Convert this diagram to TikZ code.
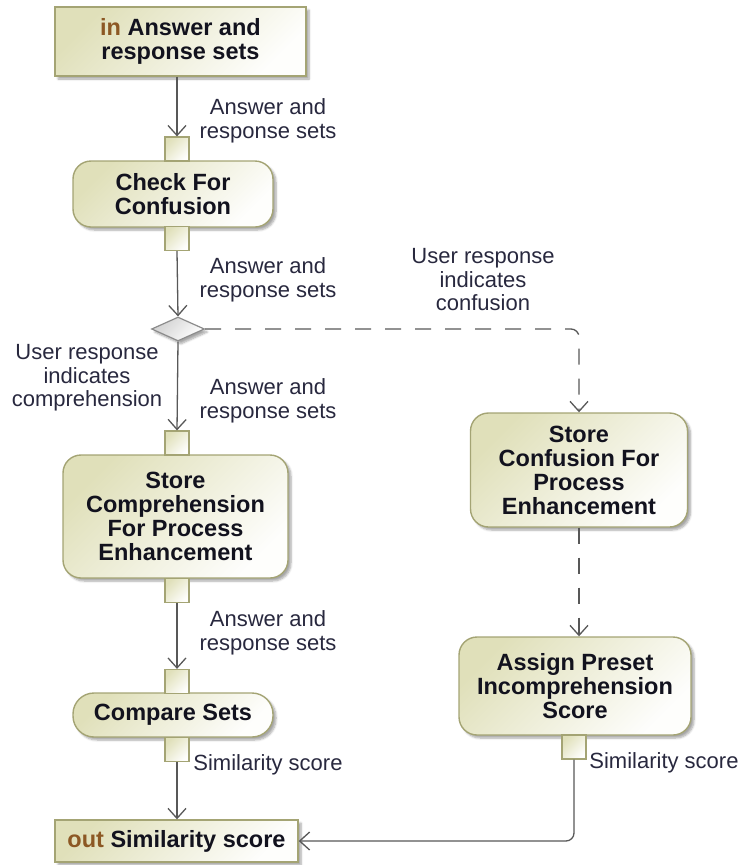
\documentclass[tikz,border=0pt]{standalone}
\usepackage{fontspec}
\setmainfont{Liberation Sans}
\usetikzlibrary{arrows.meta,shadows.blur,shapes.geometric}

\definecolor{actfill}{RGB}{224,224,186}
\definecolor{actline}{RGB}{164,164,116}
\definecolor{flow}{RGB}{88,88,88}
\definecolor{kw}{RGB}{140,88,36}
\definecolor{labelc}{RGB}{40,40,62}
\definecolor{textc}{RGB}{18,18,30}
\definecolor{decfill}{RGB}{208,208,208}
\definecolor{decline}{RGB}{140,140,140}

\begin{document}
\begin{tikzpicture}[x=1pt,y=-1pt,
  boxshade/.style={top color=actfill, bottom color=white!96!actfill, shading angle=45},
  shadowed/.style={blur shadow={shadow xshift=3pt, shadow yshift=-3pt,
      shadow blur steps=6, shadow opacity=35}},
  action/.style={draw=actline, line width=1.4pt, boxshade, shadowed,
      rounded corners=18pt, align=center, text=textc, inner sep=0pt,
      font=\fontsize{23.5}{24}\selectfont\bfseries},
  param/.style={action, rounded corners=0pt},
  pin/.style={draw=actline, line width=1.2pt, boxshade,
      minimum width=24pt, minimum height=24pt, inner sep=0pt},
  decision/.style={diamond, draw=decline, line width=1.2pt,
      top color=decfill, bottom color=white, shading angle=45, shadowed,
      minimum width=53pt, minimum height=24pt, inner sep=0pt},
  flowline/.style={draw=flow, line width=1.3pt,
      -{Straight Barb[length=10pt,width=18pt,line width=1.3pt]}},
  altflow/.style={flowline, dash pattern=on 16pt off 14pt},
  lbl/.style={font=\fontsize{22}{23.5}\selectfont, text=labelc,
      align=center, inner sep=0pt}
]
\useasboundingbox (0,0) rectangle (739,865);

% activity parameters
\node[param, minimum width=251pt, minimum height=69pt] (in) at (180.5,41.5)
  {\textcolor{kw}{in} Answer and\\response sets};
\node[param, minimum width=243pt, minimum height=42pt] (out) at (176.5,841)
  {\textcolor{kw}{out} Similarity score};

% main branch actions
\node[action, minimum width=200pt, minimum height=66pt] (check) at (173,194)
  {Check For\\Confusion};
\node[decision] (dec) at (178,329) {};
\node[action, minimum width=225pt, minimum height=123pt] (comp) at (175.5,516.5)
  {Store\\Comprehension\\For Process\\Enhancement};
\node[action, rounded corners=21pt, minimum width=200pt, minimum height=44pt]
  (cmp) at (173,715) {Compare Sets};

% confusion branch actions
\node[action, minimum width=217pt, minimum height=114pt] (conf) at (579,470)
  {Store\\Confusion For\\Process\\Enhancement};
\node[action, minimum width=232pt, minimum height=98pt] (assign) at (575,686)
  {Assign Preset\\Incomprehension\\Score};

% pins
\node[pin] (p1) at (177,149) {};
\node[pin] (p2) at (177,238.5) {};
\node[pin] (p3) at (177,443) {};
\node[pin] (p4) at (177,590.5) {};
\node[pin] (p5) at (177,681.5) {};
\node[pin] (p6) at (177,749.5) {};
\node[pin] (p7) at (574,747) {};

% object flows
\draw[flowline] (p1.north |- in.south) -- (p1.north);
\draw[flowline] (p2.south) -- (dec.north);
\draw[flowline] (dec.south) -- (p3.north);
\draw[flowline] (p4.south) -- (p5.north);
\draw[flowline] (p6.south) -- (p6.south |- out.north);
\draw[altflow, rounded corners=8pt] (dec.east) -| (conf.north);
\draw[altflow] (conf.south) -- (conf.south |- assign.north);
\draw[flowline, rounded corners=8pt] (p7.south) |- (out.east);

% flow labels
\node[lbl] (l1) at (268,121) {Answer and\\response sets};
\node[lbl] (l2) at (268,280) {Answer and\\response sets};
\node[lbl] (lconf) at (483,280) {User response\\indicates\\confusion};
\node[lbl] (lcomp) at (87,378) {User response\\indicates\\comprehension};
\node[lbl] (l3) at (268,401) {Answer and\\response sets};
\node[lbl] (l4) at (268,633) {Answer and\\response sets};
\node[lbl] (l5) at (268,765) {Similarity score};
\node[lbl] (l6) at (664,763) {Similarity score};
\end{tikzpicture}
\end{document}
